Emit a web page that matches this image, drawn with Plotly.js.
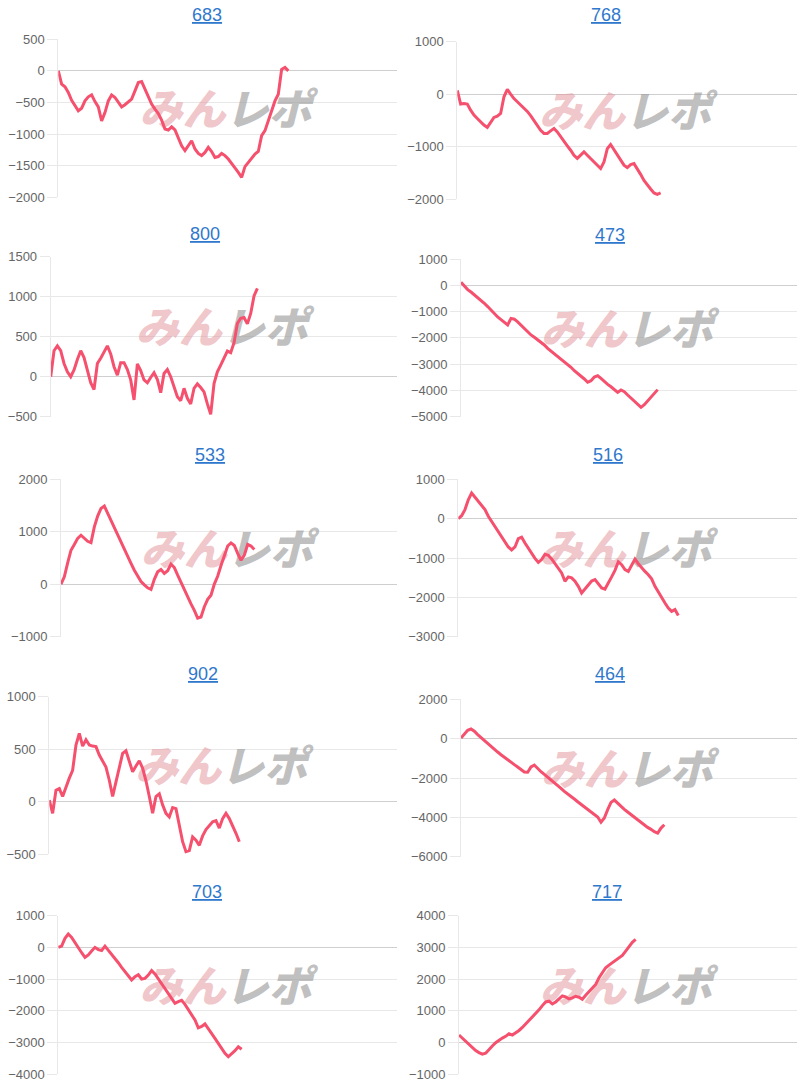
<!DOCTYPE html>
<html><head><meta charset="utf-8">
<script src="https://cdn.plot.ly/plotly-3.0.1.min.js"></script>
<style>html,body{margin:0;padding:0;background:#fff}#chart{width:800px;height:1090px}</style>
</head><body><div id="chart"></div>
<script>
// ---------- data ----------
const titles = ["683","768","800","473","533","516","902","464","703","717"];

const s683 = [0,-210,-250,-340,-465,-550,-630,-590,-475,-410,
  -380,-485,-570,-790,-660,-475,-380,-420,-500,-570,
  -535,-490,-445,-315,-185,-170,-290,-420,-525,-605,
  -675,-780,-920,-935,-885,-935,-1050,-1185,-1260,-1185,
  -1105,-1235,-1305,-1340,-1290,-1210,-1275,-1370,-1355,-1305,
  -1340,-1395,-1475,-1535,-1605,-1685,-1515,-1445,-1370,-1315,
  -1275,-1025,-945,-790,-605,-475,-370,25,55,0];

const s768 = [70,-190,-180,-190,-305,-400,-465,-530,-590,-635,
  -530,-445,-420,-370,-50,90,0,-85,-145,-205,
  -260,-330,-410,-500,-610,-690,-750,-750,-700,-655,
  -720,-815,-910,-985,-1070,-1165,-1225,-1155,-1100,-1165,
  -1230,-1295,-1355,-1420,-1295,-1040,-960,-1055,-1145,-1250,
  -1355,-1400,-1345,-1325,-1420,-1530,-1645,-1740,-1810,-1885,
  -1910,-1885];

const s800 = [0,325,385,325,165,60,0,85,215,325,
  240,85,-75,-160,165,230,315,385,285,125,
  20,175,175,90,-40,-290,160,75,-40,-75,
  -10,50,-35,-200,40,90,0,-125,-250,-300,
  -145,-270,-340,-145,-90,-135,-190,-340,-470,-85,
  60,145,230,320,300,425,665,730,740,660,
  790,1010,1105];

const s473 = [115,-40,-165,-255,-355,-455,-560,-685,-810,-950,
  -1080,-1205,-1305,-1420,-1510,-1260,-1290,-1395,-1525,-1650,
  -1765,-1890,-1980,-2070,-2170,-2270,-2400,-2500,-2615,-2705,
  -2805,-2905,-3020,-3120,-3250,-3350,-3465,-3565,-3690,-3630,
  -3490,-3440,-3540,-3665,-3770,-3860,-3960,-4075,-3985,-4050,
  -4175,-4290,-4390,-4520,-4645,-4545,-4390,-4250,-4110,-3970];

const s533 = [0,140,405,645,755,870,930,875,815,790,
  1090,1295,1440,1485,1345,1215,1080,950,805,665,
  520,395,265,150,50,-15,-70,-100,90,235,
  280,205,255,380,315,170,30,-115,-245,-375,
  -500,-645,-625,-430,-290,-210,0,150,355,550,
  725,785,735,585,455,550,755,725,660];

const s516 = [0,75,230,480,650,550,455,355,230,60,
  -75,-185,-320,-485,-600,-720,-795,-720,-510,-470,
  -620,-755,-890,-1010,-1110,-1040,-905,-930,-1025,-1135,
  -1255,-1380,-1590,-1480,-1505,-1590,-1720,-1890,-1790,-1700,
  -1585,-1550,-1650,-1760,-1790,-1650,-1480,-1315,-1095,-1170,
  -1295,-1340,-1170,-1025,-1145,-1255,-1340,-1425,-1530,-1720,
  -1870,-2015,-2145,-2270,-2355,-2310,-2460];

const s902 = [15,-110,110,125,50,145,225,300,540,650,
  530,590,540,530,525,445,380,330,205,50,
  190,340,460,485,390,285,340,390,320,200,
  50,-110,50,75,-30,-110,-145,-55,-65,-220,
  -380,-475,-465,-335,-365,-415,-325,-265,-230,-190,
  -180,-250,-160,-110,-160,-225,-300,-380];

const s464 = [35,255,425,490,375,205,50,-85,-235,-390,
  -540,-680,-815,-930,-1070,-1205,-1320,-1440,-1575,-1695,
  -1710,-1440,-1340,-1525,-1680,-1815,-1950,-2085,-2235,-2390,
  -2525,-2680,-2795,-2930,-3070,-3205,-3340,-3475,-3610,-3730,
  -3850,-3985,-4250,-4035,-3610,-3240,-3120,-3290,-3460,-3595,
  -3730,-3865,-4000,-4135,-4270,-4390,-4510,-4610,-4730,-4800,
  -4545,-4375];

const s703 = [0,40,285,420,315,145,0,-170,-315,-240,
  -115,0,-70,-100,40,-85,-210,-350,-485,-630,
  -770,-875,-1030,-925,-865,-1000,-980,-875,-735,-840,
  -1000,-1160,-1315,-1475,-1630,-1770,-1715,-1675,-1800,-1960,
  -2115,-2295,-2540,-2500,-2420,-2560,-2715,-2875,-3030,-3190,
  -3350,-3455,-3370,-3265,-3140,-3220];

const s717 = [230,135,30,-75,-180,-260,-325,-375,-345,-220,
  -115,-10,75,135,190,270,230,295,375,470,
  575,680,785,900,1025,1160,1275,1300,1215,1275,
  1380,1465,1435,1370,1405,1455,1425,1360,1485,1590,
  1695,1830,2040,2220,2355,2440,2515,2575,2650,2745,
  2880,3025,3160,3255];

const series = [s683, s768, s800, s473, s533, s516, s902, s464, s703, s717];

// y axis scale per panel
const yMin  = [-2000,-2000,-500,-5000,-1000,-3000,-500,-6000,-4000,-1000];
const yMax  = [500,1000,1500,1000,2000,1000,1000,2000,1000,4000];
const yStep = [500,1000,500,1000,1000,1000,500,2000,1000,1000];

// ---------- layout geometry (px) ----------
const W = 800, H = 1090, STEP_PX = 10/3;
const boxes = [
  {l:58.3,  r:396.7, t:39.3,  b:197.3},
  {l:457.3, r:796.7, t:41.7,  b:199},
  {l:50.7,  r:396.7, t:256.7, b:416.7},
  {l:461,   r:796.7, t:259,   b:416.7},
  {l:61,    r:396.7, t:479,   b:636.7},
  {l:458.3, r:796.7, t:479.3, b:636.7},
  {l:49.3,  r:396.7, t:696.7, b:854.3},
  {l:461,   r:796.7, t:699.3, b:856.7},
  {l:58.3,  r:396.7, t:915.7, b:1074},
  {l:459,   r:796.7, t:915.7, b:1074}
];
const titlePos = [[207,15],[606,15],[205,234],[610,235],[210,455],[608,455],[203,674],[610,674],[207,892],[607,892]];

const LINE = '#f5506e';
const GRID = '#e8e8e8';
const traces = [];
const layout = {
  width: W, height: H,
  margin: {l:0, r:0, t:0, b:0},
  paper_bgcolor: '#fff', plot_bgcolor: 'rgba(0,0,0,0)',
  showlegend: false, hovermode: false,
  font: {family: 'Liberation Sans, Arial, sans-serif', color: '#666', size: 13},
  annotations: []
};

series.forEach((vals, i) => {
  const bx = boxes[i];
  const xs = vals.map((_, k) => k);
  const xr = (bx.r - bx.l) / STEP_PX;
  const xa = i === 0 ? 'x' : 'x' + (i + 1);
  const ya = i === 0 ? 'y' : 'y' + (i + 1);
  const xkey = i === 0 ? 'xaxis' : 'xaxis' + (i + 1);
  const ykey = i === 0 ? 'yaxis' : 'yaxis' + (i + 1);

  layout[xkey] = {
    domain: [bx.l / W, bx.r / W], range: [0, xr], anchor: ya,
    showgrid: false, zeroline: false, showticklabels: false, showline: false, ticks: '', fixedrange: true
  };
  layout[ykey] = {
    domain: [1 - bx.b / H, 1 - bx.t / H], range: [yMin[i], yMax[i]], anchor: xa,
    tick0: 0, dtick: yStep[i], tickmode: 'linear',
    showgrid: true, gridcolor: GRID, gridwidth: 1,
    zeroline: true, zerolinecolor: '#cfcfcf', zerolinewidth: 1,
    showline: true, linecolor: GRID, linewidth: 1,
    ticks: 'outside', ticklen: 10, tickcolor: GRID, tickwidth: 1,
    tickfont: {family: 'Liberation Sans, Arial, sans-serif', color: '#666', size: 13},
    fixedrange: true
  };

  // watermark (drawn beneath the line)
  const cx = (bx.l + bx.r) / 2 - 2, cy = (bx.t + bx.b) / 2 - 4;
  const wx = (cx - bx.l) / STEP_PX;
  const wy = yMax[i] - (cy - bx.t) / (bx.b - bx.t) * (yMax[i] - yMin[i]);
  traces.push({
    type: 'scatter', mode: 'text', x: [wx], y: [wy], xaxis: xa, yaxis: ya,
    text: ['みん'], textposition: 'middle left', hoverinfo: 'skip', cliponaxis: false,
    textfont: {family: 'Noto Sans CJK JP', size: 43, color: 'rgba(228,150,158,0.55)', weight: 900, style: 'italic'}
  });
  traces.push({
    type: 'scatter', mode: 'text', x: [wx], y: [wy], xaxis: xa, yaxis: ya,
    text: ['レポ'], textposition: 'middle right', hoverinfo: 'skip', cliponaxis: false,
    textfont: {family: 'Noto Sans CJK JP', size: 43, color: 'rgba(150,150,150,0.6)', weight: 900, style: 'italic'}
  });

  traces.push({
    type: 'scatter', mode: 'lines', x: xs, y: vals, xaxis: xa, yaxis: ya,
    line: {color: LINE, width: 3, shape: 'linear'}, hoverinfo: 'skip'
  });

  layout.annotations.push({
    xref: 'paper', yref: 'paper', x: titlePos[i][0] / W, y: 1 - titlePos[i][1] / H,
    xanchor: 'center', yanchor: 'middle', showarrow: false,
    text: '<u>' + titles[i] + '</u>',
    font: {family: 'Liberation Sans, Arial, sans-serif', size: 18, color: '#2f78cc'}
  });
});

Plotly.newPlot('chart', traces, layout, {staticPlot: true, displayModeBar: false});
</script>
</body></html>
